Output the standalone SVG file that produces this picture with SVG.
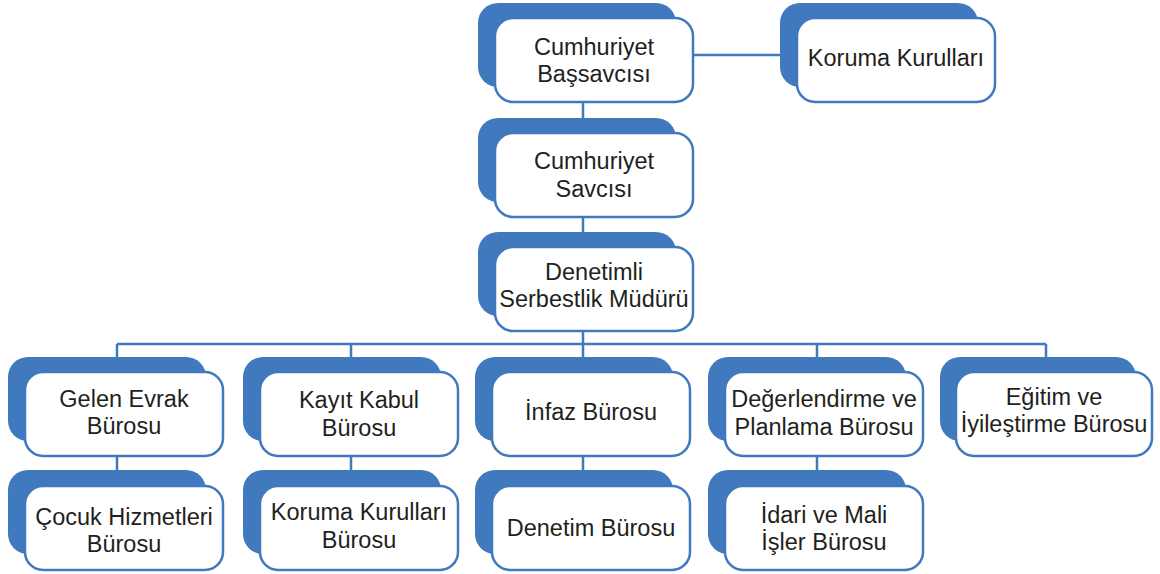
<svg xmlns="http://www.w3.org/2000/svg" width="1160" height="574" viewBox="0 0 1160 574">
<style>
.bk{fill:#4179bf}
.fr{fill:#fff;stroke:#4179bf;stroke-width:2.5}
.cn{fill:none;stroke:#4179bf;stroke-width:2.5}
.t{font-family:"Liberation Sans",Arial,sans-serif;font-size:23.5px;fill:#231f20;text-anchor:middle}
</style>
<rect width="1160" height="574" fill="#fff"/>
<g id="connectors">
<path class="cn" d="M693 55H780"/>
<path class="cn" d="M583 102V118M583 217V232M583 331V344"/>
<path class="cn" d="M117 344H1046M117 344V357M351 344V357M583 344V357M817 344V357M1046 344V357"/>
<path class="cn" d="M117 456V470M351 456V470M583 456V470M817 456V470"/>
</g>
<g id="n-bassavci">
<rect class="bk" x="478" y="3" width="198" height="84" rx="20"/>
<rect class="fr" x="495" y="18" width="198" height="84" rx="18"/>
<text class="t" x="594" y="55">Cumhuriyet</text>
<text class="t" x="594" y="82">Başsavcısı</text>
</g>
<g id="n-koruma">
<rect class="bk" x="780" y="3" width="198" height="84" rx="20"/>
<rect class="fr" x="797" y="18" width="198" height="84" rx="18"/>
<text class="t" x="896" y="66">Koruma Kurulları</text>
</g>
<g id="n-savci">
<rect class="bk" x="478" y="118" width="198" height="84" rx="20"/>
<rect class="fr" x="495" y="133" width="198" height="84" rx="18"/>
<text class="t" x="594" y="169">Cumhuriyet</text>
<text class="t" x="594" y="197">Savcısı</text>
</g>
<g id="n-mudur">
<rect class="bk" x="478" y="232" width="198" height="84" rx="20"/>
<rect class="fr" x="495" y="247" width="198" height="84" rx="18"/>
<text class="t" x="594" y="280">Denetimli</text>
<text class="t" x="594" y="307">Serbestlik Müdürü</text>
</g>
<g id="n-gelen">
<rect class="bk" x="8" y="357" width="198" height="84" rx="20"/>
<rect class="fr" x="25" y="372" width="198" height="84" rx="18"/>
<text class="t" x="124" y="407">Gelen Evrak</text>
<text class="t" x="124" y="434">Bürosu</text>
</g>
<g id="n-kayit">
<rect class="bk" x="243" y="357" width="198" height="84" rx="20"/>
<rect class="fr" x="260" y="372" width="198" height="84" rx="18"/>
<text class="t" x="359" y="408">Kayıt Kabul</text>
<text class="t" x="359" y="436">Bürosu</text>
</g>
<g id="n-infaz">
<rect class="bk" x="475" y="357" width="198" height="84" rx="20"/>
<rect class="fr" x="492" y="372" width="198" height="84" rx="18"/>
<text class="t" x="591" y="420">İnfaz Bürosu</text>
</g>
<g id="n-degerlendirme">
<rect class="bk" x="708" y="357" width="198" height="84" rx="20"/>
<rect class="fr" x="725" y="372" width="198" height="84" rx="18"/>
<text class="t" x="824" y="407">Değerlendirme ve</text>
<text class="t" x="824" y="435">Planlama Bürosu</text>
</g>
<g id="n-egitim">
<rect class="bk" x="940" y="357" width="196" height="84" rx="20"/>
<rect class="fr" x="956" y="372" width="196" height="84" rx="18"/>
<text class="t" x="1054" y="405">Eğitim ve</text>
<text class="t" x="1054" y="432">İyileştirme Bürosu</text>
</g>
<g id="n-cocuk">
<rect class="bk" x="8" y="470" width="198" height="84" rx="20"/>
<rect class="fr" x="25" y="486" width="198" height="84" rx="18"/>
<text class="t" x="124" y="525">Çocuk Hizmetleri</text>
<text class="t" x="124" y="552">Bürosu</text>
</g>
<g id="n-koruma-buro">
<rect class="bk" x="243" y="470" width="198" height="84" rx="20"/>
<rect class="fr" x="260" y="486" width="198" height="84" rx="18"/>
<text class="t" x="359" y="520">Koruma Kurulları</text>
<text class="t" x="359" y="548">Bürosu</text>
</g>
<g id="n-denetim">
<rect class="bk" x="475" y="470" width="198" height="84" rx="20"/>
<rect class="fr" x="492" y="486" width="198" height="84" rx="18"/>
<text class="t" x="591" y="536">Denetim Bürosu</text>
</g>
<g id="n-idari">
<rect class="bk" x="708" y="470" width="198" height="84" rx="20"/>
<rect class="fr" x="725" y="486" width="198" height="84" rx="18"/>
<text class="t" x="824" y="523">İdari ve Mali</text>
<text class="t" x="824" y="550">İşler Bürosu</text>
</g>
</svg>
